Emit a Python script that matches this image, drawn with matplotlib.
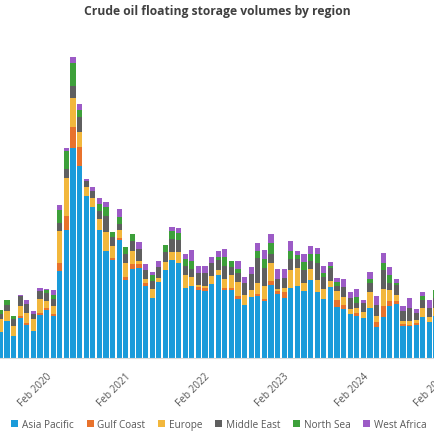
import matplotlib
matplotlib.use("Agg")
import matplotlib.pyplot as plt
import matplotlib.transforms as mtransforms
from matplotlib.patches import Patch
import numpy as np

plt.rcParams['font.family'] = ['Open Sans', 'DejaVu Sans']

# Monthly floating storage (Jun 2019 .. Dec 2024), visible portion of the chart
months = [f"{m} {y}" for y in range(2019, 2025) for m in
          ["Jan", "Feb", "Mar", "Apr", "May", "Jun", "Jul", "Aug", "Sep", "Oct", "Nov", "Dec"]][5:]

asia_pacific = [26, 37, 22, 40, 33, 27, 43, 48, 42, 87, 128, 210, 192, 162, 151, 128, 107, 98, 118, 78,
                89, 90, 72, 60, 76, 88, 98, 95, 70, 72, 68, 67, 74, 83, 68, 68, 59, 53, 61, 62,
                57, 73, 64, 60, 70, 72, 67, 78, 66, 59, 71, 51, 49, 44, 42, 40, 50, 31, 41, 52,
                54, 32, 32, 33, 41, 36, 42]
gulf_coast = [0, 0, 0, 1.5, 1.5, 0, 2, 2, 2, 8, 14, 21, 19, 0, 0, 0, 0, 2, 2, 3,
              5, 4, 3, 0, 0, 0, 0, 0, 0, 0, 3, 3, 0, 0, 2, 2, 3, 0, 0, 2,
              2, 4, 3, 6, 0, 0, 0, 0, 0, 0, 0, 7, 4, 0, 3, 0, 0, 5, 11, 5,
              3, 2, 1, 2, 0, 0, 0]
europe = [13, 10, 10, 10, 10, 12, 14, 7, 8, 32, 38, 29, 15, 9, 9, 11, 19, 12, 8, 14,
          13, 3, 4, 9, 4, 8, 8, 11, 13, 9, 2, 2, 8, 5, 9, 13, 14, 10, 7, 11,
          13, 18, 2, 4, 18, 18, 8, 11, 12, 10, 6, 9, 8, 5, 5, 6, 16, 6, 17, 11,
          6, 3, 4, 3, 9, 5, 8]
middle_east = [5, 6, 7, 10, 9, 5, 8, 8, 7, 8, 9, 12, 15, 6, 7, 8, 16, 9, 6, 9,
               10, 12, 9, 8, 11, 10, 13, 12, 9, 8, 12, 13, 13, 10, 13, 8, 9, 12, 16, 25,
               18, 9, 10, 10, 11, 9, 13, 8, 17, 12, 13, 5, 10, 11, 5, 9, 9, 11, 19, 7,
               10, 10, 13, 7, 8, 9, 10]
north_sea = [4, 5, 3, 0, 0, 0, 0, 3, 4, 13, 18, 23, 7, 0, 0, 7, 9, 5, 7, 7,
             7, 0, 0, 6, 0, 7, 8, 7, 7, 8, 0, 0, 0, 3, 9, 6, 4, 0, 0, 7,
             9, 11, 0, 0, 8, 4, 8, 7, 9, 4, 2, 4, 0, 0, 6, 0, 4, 0, 7, 8,
             2, 0, 0, 0, 4, 0, 8]
west_africa = [0, 0, 0, 1, 4, 3, 3, 1, 5, 5, 3, 6, 6, 2, 4, 6, 5, 0, 8, 0,
               0, 7, 6, 3, 6, 0, 4, 5, 5, 11, 7, 7, 6, 6, 8, 0, 8, 6, 7, 8,
               9, 9, 10, 9, 10, 4, 8, 8, 6, 7, 4, 4, 8, 6, 8, 3, 7, 9, 10, 8,
               4, 5, 10, 4, 4, 8, 0]

tick_months = ["Feb 2020", "Feb 2021", "Feb 2022", "Feb 2023", "Feb 2024", "Feb 2025"]

series = [
    ("Asia Pacific", asia_pacific, "#1A9BDA"),
    ("Gulf Coast", gulf_coast, "#E8722C"),
    ("Europe", europe, "#F2B73C"),
    ("Middle East", middle_east, "#5F5F5F"),
    ("North Sea", north_sea, "#3DA03A"),
    ("West Africa", west_africa, "#9C5BC6"),
]

W = 435
fig = plt.figure(figsize=(4.35, 4.35), dpi=100)
pitch = 6.6
x0 = -0.4 / pitch
ax_w = 1.12
ax = fig.add_axes([0, 76.5 / W, ax_w, 320 / W])
ax.set_xlim(x0, x0 + ax_w * W / pitch)
ax.set_ylim(0, 320)

x = np.arange(len(months))
bottom = np.zeros(len(months))
for name, vals, col in series:
    v = np.array(vals, dtype=float)
    ax.bar(x, v, bottom=bottom, width=0.8, color=col, linewidth=0)
    bottom += v

# tick positions: Feb of each year, relative to first month (Jun 2019)
all_labels = [f"{m} {y}" for y in range(2019, 2026) for m in
              ["Jan", "Feb", "Mar", "Apr", "May", "Jun", "Jul", "Aug", "Sep", "Oct", "Nov", "Dec"]][5:]
ticks = [all_labels.index(t) for t in tick_months]
ax.set_xticks(ticks)
ax.set_xticklabels(tick_months, rotation=45, ha='right', va='top', rotation_mode='anchor',
                   fontsize=7.2, color='#595959')
ax.tick_params(axis='x', length=0, pad=9)
offset = mtransforms.ScaledTranslation(-0.07, 0, fig.dpi_scale_trans)
for lbl in ax.get_xticklabels():
    lbl.set_transform(lbl.get_transform() + offset)
ax.set_yticks([])
for s in ['top', 'right', 'left']:
    ax.spines[s].set_visible(False)
ax.spines['bottom'].set_color('#D9D9D9')
ax.spines['bottom'].set_linewidth(0.8)

fig.text(217 / W, 1 - 11 / W, "Crude oil floating storage volumes by region",
         ha='center', va='center', fontsize=8.7, fontweight='bold', color='#404040')

handles = [Patch(facecolor=c, edgecolor='none', label=n) for n, _, c in series]
fig.legend(handles=handles, loc='center', bbox_to_anchor=(219 / W, 1 - 425.5 / W), ncol=6,
           frameon=False, fontsize=7.2, handlelength=0.7, handleheight=0.7,
           handletextpad=0.35, columnspacing=1.3, labelcolor='#595959', borderaxespad=0)

fig.savefig("out.png", dpi=100)
